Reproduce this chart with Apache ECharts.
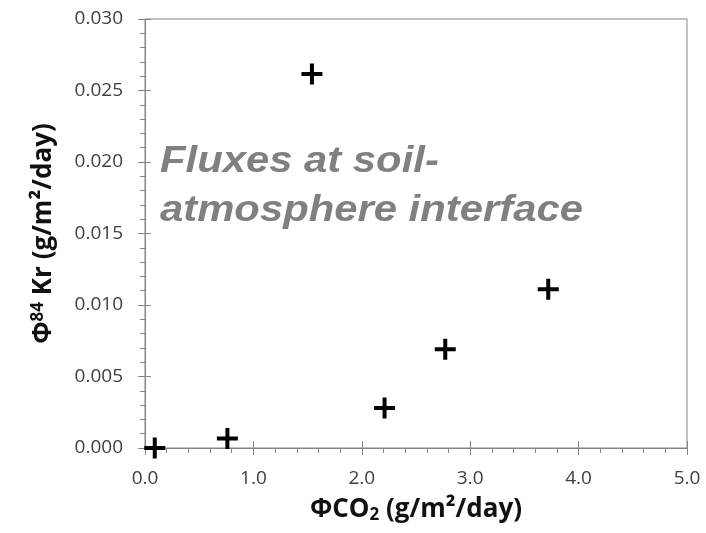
<!DOCTYPE html>
<html>
<head>
<meta charset="utf-8">
<script src="https://cdn.jsdelivr.net/npm/echarts@6/dist/echarts.min.js"></script>
<style>
  html, body { margin: 0; padding: 0; background: #fff; }
  #chart { width: 706px; height: 533px; }
</style>
</head>
<body>
<div id="chart"></div>
<script>
// CO2 flux (x) vs 84Kr flux (y), g/m²/day
const co2Flux = [0.09, 0.76, 1.54, 2.21, 2.77, 3.72];
const krFlux  = [0.0000, 0.00066, 0.02615, 0.0028, 0.0069, 0.0111];

const xTicks = { min: 0, max: 5, interval: 1 };
const yTicks = { min: 0, max: 0.03, interval: 0.005 };

const annotationLines = ['Fluxes at soil-', 'atmosphere interface'];

const axisColor = '#868686';
const labelFont = '"Open Sans", Lato, sans-serif';

// plus-shaped marker
const plusSymbol = 'path://M8.5,0 H12.5 V8.5 H21 V12.5 H12.5 V21 H8.5 V12.5 H0 V8.5 H8.5 Z';

const points = co2Flux.map((x, i) => [x, krFlux[i]]);

const chart = echarts.init(document.getElementById('chart'), null, { renderer: 'canvas' });

const baseAxis = (range) => ({
  type: 'value',
  min: range.min,
  max: range.max,
  interval: range.interval,
  splitLine: { show: false },
  axisLine: { show: true, lineStyle: { color: axisColor, width: 1 } },
});

const titleRich = (size) => ({
  fontSize: size, fontWeight: 'bold', color: '#111', fontFamily: labelFont
});

chart.setOption({
  animation: false,
  backgroundColor: '#fff',
  grid: {
    left: 145, right: 19, top: 19, bottom: 85,
    show: true, borderColor: axisColor, borderWidth: 1, backgroundColor: 'transparent'
  },
  xAxis: [
    Object.assign(baseAxis(xTicks), {
      position: 'bottom',
      axisTick: { show: true, inside: false, length: 7, lineStyle: { color: axisColor } },
      minorTick: { show: true, splitNumber: 5, length: 5, lineStyle: { color: axisColor } },
      axisLabel: {
        margin: 21, fontSize: 19, color: '#404040', fontFamily: labelFont,
        formatter: (v) => v.toFixed(1)
      },
      name: '{b|ΦCO}{s|2}{b| (g/m²/day)}',
      nameLocation: 'middle',
      nameGap: 48,
      nameTextStyle: {
        rich: {
          b: titleRich(26),
          s: Object.assign(titleRich(17), { padding: [11, 0, 0, 0] })
        }
      }
    }),
    // inner half of the major ticks
    Object.assign(baseAxis(xTicks), {
      position: 'bottom',
      axisLine: { show: false },
      axisTick: { show: true, inside: true, length: 7, lineStyle: { color: axisColor } },
      axisLabel: { show: false }
    })
  ],
  yAxis: [
    Object.assign(baseAxis(yTicks), {
      position: 'left',
      axisTick: { show: true, inside: false, length: 7, lineStyle: { color: axisColor } },
      minorTick: { show: true, splitNumber: 5, length: 5, lineStyle: { color: axisColor } },
      axisLabel: {
        margin: 22, fontSize: 19, color: '#404040', fontFamily: labelFont,
        formatter: (v) => v.toFixed(3)
      },
      name: '{b|Φ}{p|84}{b| Kr (g/m²/day)}',
      nameLocation: 'middle',
      nameGap: 87,
      nameRotate: 90,
      nameTextStyle: {
        rich: {
          b: titleRich(26),
          p: Object.assign(titleRich(17), { padding: [0, 0, 11, 0] })
        }
      }
    }),
    Object.assign(baseAxis(yTicks), {
      position: 'left',
      axisLine: { show: false },
      axisTick: { show: true, inside: true, length: 6, lineStyle: { color: axisColor } },
      axisLabel: { show: false }
    })
  ],
  graphic: [{
    type: 'text',
    left: 160,
    top: 137,
    scaleX: 1.13,
    originX: 0,
    originY: 0,
    style: {
      text: annotationLines.join('\n'),
      font: 'italic bold 37px "Liberation Sans", Arial, sans-serif',
      fill: '#808080',
      lineHeight: 49
    }
  }],
  series: [{
    type: 'scatter',
    xAxisIndex: 0,
    yAxisIndex: 0,
    data: points,
    symbol: plusSymbol,
    symbolSize: 21,
    itemStyle: { color: '#000', opacity: 1 }
  }]
});
</script>
</body>
</html>
